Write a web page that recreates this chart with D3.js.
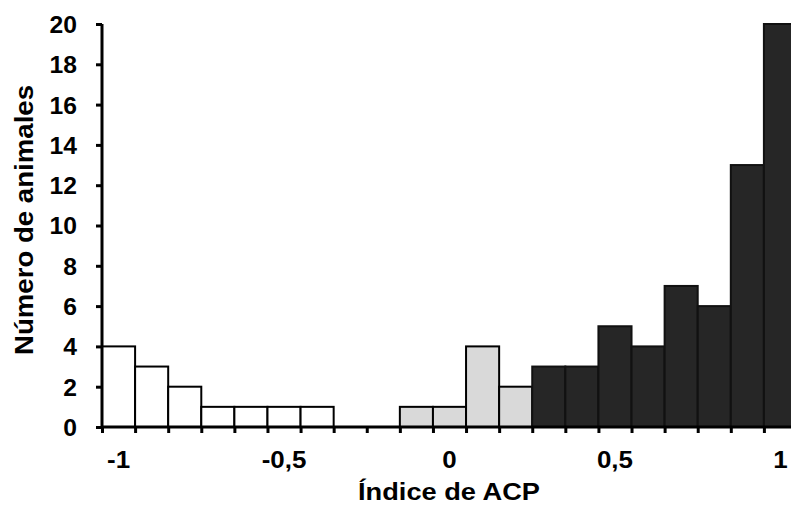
<!DOCTYPE html>
<html><head><meta charset="utf-8">
<script src="https://cdn.jsdelivr.net/npm/d3@7"></script>
<style>body{margin:0;background:#fff}svg{display:block}</style>
</head><body>
<svg id="c" width="791" height="508"></svg>
<script>
const binCenters = [-1.0,-0.9,-0.8,-0.7,-0.6,-0.5,-0.4,-0.3,-0.2,-0.1,0.0,0.1,0.2,0.3,0.4,0.5,0.6,0.7,0.8,0.9,1.0];
const counts     = [4,3,2,1,1,1,1,0,0,1,1,4,2,3,3,5,4,7,6,13,20];
const groups     = ["neg","neg","neg","neg","neg","neg","neg","neg","neg","mid","mid","mid","mid","pos","pos","pos","pos","pos","pos","pos","pos"];
const xTickLabels = [[-1,"-1"],[-0.5,"-0,5"],[0,"0"],[0.5,"0,5"],[1,"1"]];
const yTicks = [0,2,4,6,8,10,12,14,16,18,20];
const binWidth = 0.1;

const fills = {neg:"#ffffff", mid:"#d9d9d9", pos:"#262626"};
const strokes = {neg:"#000000", mid:"#000000", pos:"#111111"};

const svg = d3.select("#c");
const font = "'Liberation Sans', Arial, sans-serif";
const x = d3.scaleLinear().domain([-1.05, 1.05]).range([102, 797]);
const y = d3.scaleLinear().domain([0, 20]).range([427, 24]);

function widen(sel, f) {
  sel.each(function(){
    const w = this.getComputedTextLength();
    d3.select(this).attr("textLength", w*f).attr("lengthAdjust","spacingAndGlyphs");
  });
}

// bars
svg.append("g").selectAll("rect").data(binCenters.map((c,i)=>({c, v:counts[i], g:groups[i]})).filter(d=>d.v>0))
  .join("rect")
  .attr("x", d=>x(d.c - binWidth/2))
  .attr("width", d=>x(d.c + binWidth/2) - x(d.c - binWidth/2))
  .attr("y", d=>y(d.v))
  .attr("height", d=>y(0)-y(d.v))
  .attr("fill", d=>fills[d.g])
  .attr("stroke", d=>strokes[d.g])
  .attr("stroke-width", 2);

// y axis
const yAxis = d3.axisLeft(y).tickValues(yTicks).tickSize(6).tickPadding(19).tickFormat(d3.format("d"));
const gy = svg.append("g").attr("transform", "translate(102,0)").call(yAxis);
gy.select(".domain").attr("stroke","#000").attr("stroke-width",3).attr("d", `M0,${y(20)}V${y(0)}`);
gy.selectAll(".tick line").attr("stroke","#000").attr("stroke-width",3);
const yt = gy.selectAll(".tick text").attr("font-family",font).attr("font-size",23.5).attr("font-weight","bold").attr("fill","#000").attr("dy","0.36em");
widen(yt, 1.05);

// x axis: ticks at bin boundaries
const edges = binCenters.map(c=>c - binWidth/2).concat([binCenters[binCenters.length-1] + binWidth/2]);
const xAxis = d3.axisBottom(x).tickValues(edges).tickSize(6).tickFormat("");
const gx = svg.append("g").attr("transform", `translate(0,${y(0)})`).call(xAxis);
gx.select(".domain").attr("stroke","#000").attr("stroke-width",3).attr("d", `M${x(-1.05)},0H${x(1.05)}`);
gx.selectAll(".tick line").attr("stroke","#000").attr("stroke-width",3);

// x tick labels at centers
const xt = svg.append("g").selectAll("text").data(xTickLabels).join("text")
  .attr("x", d=>x(d[0])).attr("y", 468)
  .attr("text-anchor","middle")
  .attr("font-family",font).attr("font-size",24).attr("font-weight","bold")
  .text(d=>d[1]);
widen(xt, 1.08);

// axis titles
svg.append("text").attr("x", 449).attr("y", 500).attr("text-anchor","middle")
  .attr("font-family",font).attr("font-size",24).attr("font-weight","bold")
  .attr("textLength",182).attr("lengthAdjust","spacingAndGlyphs")
  .text("Índice de ACP");
svg.append("text").attr("transform","translate(33,220) rotate(-90)").attr("text-anchor","middle")
  .attr("font-family",font).attr("font-size",25).attr("font-weight","bold")
  .attr("textLength",270).attr("lengthAdjust","spacingAndGlyphs")
  .text("Número de animales");
</script>
</body></html>
